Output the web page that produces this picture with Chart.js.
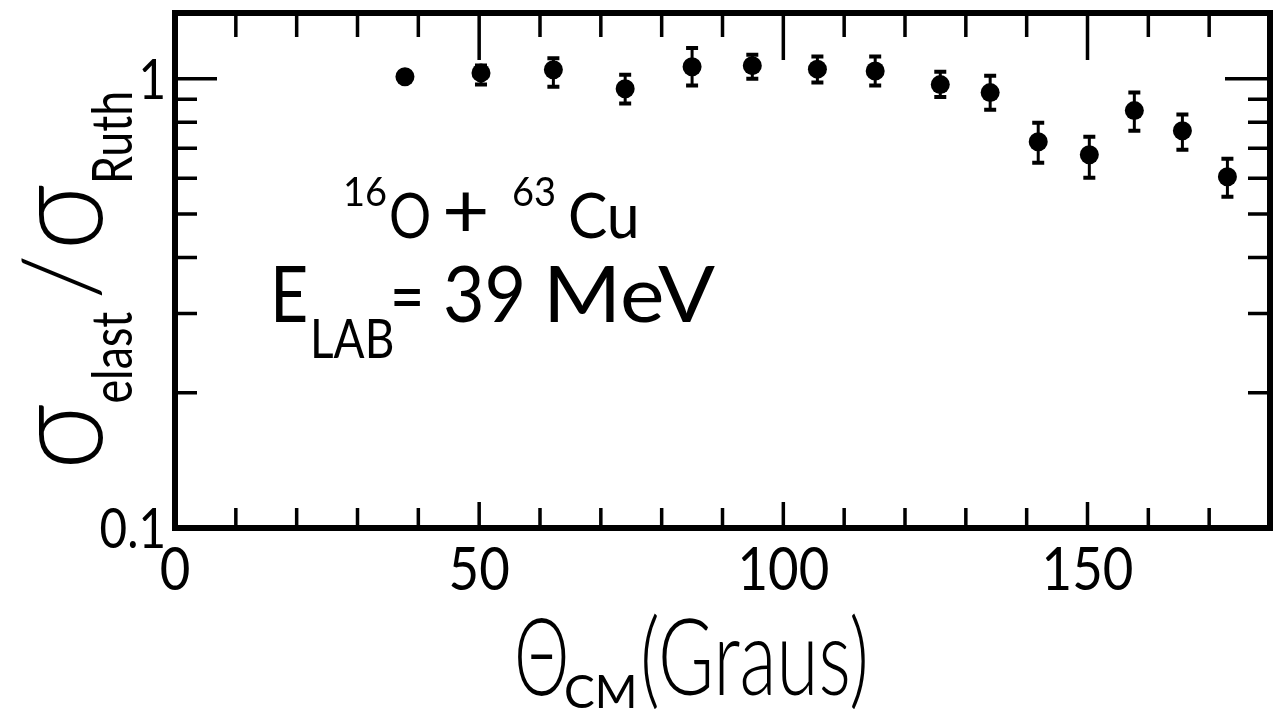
<!DOCTYPE html>
<html>
<head>
<meta charset="utf-8">
<script src="https://cdn.jsdelivr.net/npm/chart.js@4.4.1/dist/chart.umd.min.js"></script>
<style>
  html, body { margin: 0; padding: 0; background: #fff; }
  canvas { display: block; }
</style>
</head>
<body>
<canvas id="chart" width="1281" height="709"></canvas>
<script>
// Elastic scattering 16O + 63Cu at 39 MeV, ratio to Rutherford vs CM angle
const thetaCM = [37.8, 50.3, 62.2, 74.0, 85.0, 94.9, 105.6, 115.1, 125.8, 134.0, 141.9, 150.3, 157.7, 165.6, 173.0];
const ratio   = [1.01, 1.03, 1.047, 0.95, 1.063, 1.069, 1.05, 1.04, 0.97, 0.931, 0.724, 0.677, 0.849, 0.766, 0.605];
const errLow  = [0.995, 0.97, 0.96, 0.88, 0.965, 1.00, 0.98, 0.965, 0.91, 0.853, 0.65, 0.602, 0.766, 0.695, 0.546];
const errHigh = [1.025, 1.07, 1.11, 1.02, 1.17, 1.13, 1.12, 1.12, 1.036, 1.015, 0.798, 0.743, 0.931, 0.832, 0.663];

const xTickValues = [0, 10, 20, 30, 40, 50, 60, 70, 80, 90, 100, 110, 120, 130, 140, 150, 160, 170, 180];
const xTickLabels = [0, 50, 100, 150];
const yTickValues = [0.1, 0.2, 0.3, 0.4, 0.5, 0.6, 0.7, 0.8, 0.9, 1];
const yTickLabels = [0.1, 1];

const FONT = '"Lato", "Open Sans", "DejaVu Sans", sans-serif';

// text squeezed or stretched horizontally, like the stencil lettering; returns the advance
function drawText(ctx, text, x, y, size, sx, weight) {
    ctx.save();
    ctx.font = (weight || 300) + ' ' + size + 'px ' + FONT;
    ctx.translate(x, y);
    ctx.scale(sx, 1);
    ctx.fillText(text, 0, 0);
    const w = ctx.measureText(text).width * sx;
    ctx.restore();
    return w;
}

function textWidth(ctx, text, size, sx, weight) {
    ctx.save();
    ctx.font = (weight || 300) + ' ' + size + 'px ' + FONT;
    const w = ctx.measureText(text).width * sx;
    ctx.restore();
    return w;
}

// heavy frame with inward ticks on all four sides, plus the tick labels
const frameTicks = {
    id: 'frameTicks',
    afterDraw(chart) {
        const { ctx, chartArea: a, scales: { x, y } } = chart;
        ctx.save();
        ctx.strokeStyle = '#000';
        ctx.fillStyle = '#000';
        ctx.lineWidth = 3.5;
        ctx.beginPath();
        x.ticks.forEach(t => {
            if (t.value <= x.min || t.value >= x.max) return;
            const px = x.getPixelForValue(t.value);
            const major = t.value % 50 === 0;
            ctx.moveTo(px, a.top);
            ctx.lineTo(px, a.top + (major ? 47 : 24));
            ctx.moveTo(px, a.bottom);
            ctx.lineTo(px, a.bottom - (major ? 26 : 20));
        });
        y.ticks.forEach(t => {
            if (t.value <= y.min || t.value >= y.max) return;
            const py = y.getPixelForValue(t.value);
            const major = t.value === 1;
            ctx.moveTo(a.left, py);
            ctx.lineTo(a.left + (major ? 42 : 22), py);
            ctx.moveTo(a.right, py);
            ctx.lineTo(a.right - (major ? 45 : 22), py);
        });
        ctx.stroke();
        ctx.lineWidth = 6;
        ctx.strokeRect(a.left, a.top, a.right - a.left, a.bottom - a.top);

        xTickLabels.forEach(v => {
            const s = String(v);
            const px = x.getPixelForValue(v);
            drawText(ctx, s, px - textWidth(ctx, s, 60, 0.88, 400) / 2, a.bottom + 62, 60, 0.88, 400);
        });
        yTickLabels.forEach(v => {
            const s = String(v);
            const py = y.getPixelForValue(v);
            drawText(ctx, s, a.left - 9 - textWidth(ctx, s, 56, 0.85, 400), py + 20, 56, 0.85, 400);
        });
        ctx.restore();
    }
};

// vertical error bars with caps
const errorBars = {
    id: 'errorBars',
    beforeDatasetsDraw(chart) {
        const { ctx, scales: { x, y } } = chart;
        ctx.save();
        ctx.strokeStyle = '#000';
        thetaCM.forEach((t, i) => {
            const px = x.getPixelForValue(t);
            const lo = y.getPixelForValue(errLow[i]);
            const hi = y.getPixelForValue(errHigh[i]);
            ctx.lineWidth = 3;
            ctx.beginPath();
            ctx.moveTo(px, lo);
            ctx.lineTo(px, hi);
            ctx.stroke();
            ctx.lineWidth = 4;
            ctx.beginPath();
            ctx.moveTo(px - 6, lo);
            ctx.lineTo(px + 6, lo);
            ctx.moveTo(px - 6, hi);
            ctx.lineTo(px + 6, hi);
            ctx.stroke();
        });
        ctx.restore();
    }
};

// axis titles and the reaction label
const labels = {
    id: 'labels',
    afterDraw(chart) {
        const ctx = chart.ctx;
        ctx.save();
        ctx.fillStyle = '#000';
        ctx.textBaseline = 'alphabetic';
        ctx.textAlign = 'left';

        // 16O + 63Cu
        drawText(ctx, '16', 343, 206, 40, 0.95, 400);
        drawText(ctx, 'O', 389, 238, 62, 0.85, 400);
        drawText(ctx, '+', 442, 238, 78, 1.05, 400);
        drawText(ctx, '63', 512, 206, 40, 0.95, 400);
        drawText(ctx, 'Cu', 568, 238, 62, 0.95, 400);

        // E_LAB = 39 MeV
        drawText(ctx, 'E', 270, 322, 78, 0.85, 400);
        drawText(ctx, 'LAB', 310, 358, 54, 0.85, 400);
        drawText(ctx, '=', 390, 322, 74, 0.8, 400);
        drawText(ctx, '39', 443, 322, 78, 0.92, 400);
        drawText(ctx, 'MeV', 543, 322, 78, 1.08, 400);

        // x title
        drawText(ctx, 'Θ', 514, 695, 106, 0.66);
        drawText(ctx, 'CM', 564, 708, 46, 1.0, 400);
        drawText(ctx, '(Graus)', 640, 695, 106, 0.72);

        // y title, rotated
        ctx.translate(102, 470);
        ctx.rotate(-Math.PI / 2);
        let p = 0;
        p += drawText(ctx, 'σ', p, 0, 128, 0.9);
        p += drawText(ctx, 'elast', p, 30, 56, 0.8, 400) + 12;
        p += drawText(ctx, '/', p, -4, 104, 1.0) + 4;
        p += drawText(ctx, 'σ', p, 0, 128, 0.9);
        drawText(ctx, 'Ruth', p, 30, 56, 0.8, 400);
        ctx.restore();
    }
};

const ctx = document.getElementById('chart').getContext('2d');
new Chart(ctx, {
    type: 'scatter',
    data: {
        datasets: [{
            data: thetaCM.map((t, i) => ({ x: t, y: ratio[i] })),
            backgroundColor: '#000',
            borderWidth: 0,
            pointRadius: 9.5
        }]
    },
    options: {
        responsive: false,
        animation: false,
        devicePixelRatio: 1,
        layout: { padding: { top: 13, right: 11, left: 0, bottom: 0 } },
        plugins: { legend: { display: false }, tooltip: { enabled: false } },
        scales: {
            x: {
                type: 'linear',
                min: 0,
                max: 180,
                afterFit(s) { s.height = 181; s.paddingLeft = 0; s.paddingRight = 0; },
                afterBuildTicks(s) { s.ticks = xTickValues.map(v => ({ value: v })); },
                grid: { display: false, drawTicks: false },
                border: { display: false },
                ticks: { display: false }
            },
            y: {
                type: 'logarithmic',
                min: 0.1,
                max: 1.4,
                afterFit(s) { s.width = 175; s.paddingTop = 0; s.paddingBottom = 0; },
                afterBuildTicks(s) { s.ticks = yTickValues.map(v => ({ value: v })); },
                grid: { display: false, drawTicks: false },
                border: { display: false },
                ticks: { display: false }
            }
        }
    },
    plugins: [errorBars, frameTicks, labels]
});
</script>
</body>
</html>
